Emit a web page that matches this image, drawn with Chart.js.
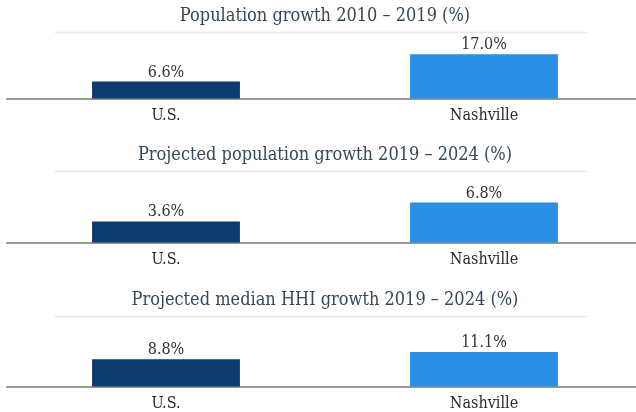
<!DOCTYPE html>
<html lang="en">
<head>
    <meta charset="UTF-8">
    <title>Growth comparison</title>
    <script src="https://cdn.jsdelivr.net/npm/chart.js"></script>
    <style>
        body {
            margin: 0;
            width: 636px;
            height: 412px;
            overflow: hidden; /* canvases are a bit wider than the page */
            position: relative;
            background: #fff;
        }
        .panel {
            position: absolute;
            left: -7px;
        }
    </style>
</head>
<body>
    <div class="panel" style="top:0px"><canvas id="chartPop" width="650" height="139"></canvas></div>
    <div class="panel" style="top:139px"><canvas id="chartProjPop" width="650" height="145"></canvas></div>
    <div class="panel" style="top:284px"><canvas id="chartHhi" width="650" height="137"></canvas></div>

    <script>
        const categories = ['U.S.', 'Nashville'];
        const titles = [
            'Population growth 2010 – 2019 (%)',
            'Projected population growth 2019 – 2024 (%)',
            'Projected median HHI growth 2019 – 2024 (%)'
        ];
        const popGrowth = [6.6, 17.0];
        const projPopGrowth = [3.6, 6.8];
        const projHhiGrowth = [8.8, 11.1];

        const barColors = ['#0c3b6f', '#2b8fe5'];
        const serif = "'DejaVu Serif Condensed', 'DejaVu Serif', serif";

        // value labels above each bar
        const valueLabels = {
            id: 'valueLabels',
            afterDatasetsDraw(chart) {
                const ctx = chart.ctx;
                const ds = chart.data.datasets[0];
                ctx.save();
                ctx.font = '16px ' + serif;
                ctx.fillStyle = '#333333';
                ctx.textAlign = 'center';
                ctx.textBaseline = 'alphabetic';
                chart.getDatasetMeta(0).data.forEach((bar, i) => {
                    ctx.fillText(ds.data[i].toFixed(1) + '%', bar.x, bar.y - 5);
                });
                ctx.restore();
            }
        };

        // thin rule under the title
        const titleRule = {
            id: 'titleRule',
            beforeDraw(chart) {
                const ctx = chart.ctx;
                const y = Math.round(chart.chartArea.top) + 0.5;
                ctx.save();
                ctx.strokeStyle = '#e8e8e8';
                ctx.lineWidth = 1.5;
                ctx.beginPath();
                ctx.moveTo(62, y);
                ctx.lineTo(594, y);
                ctx.stroke();
                ctx.restore();
            }
        };

        function makeChart(id, title, values, yMax, padBottom) {
            return new Chart(document.getElementById(id), {
                type: 'bar',
                data: {
                    labels: categories,
                    datasets: [{
                        data: values,
                        backgroundColor: barColors,
                        barPercentage: 0.465,
                        categoryPercentage: 1
                    }]
                },
                options: {
                    responsive: false,
                    animation: false,
                    layout: { padding: { left: 14, right: 0, top: 0, bottom: padBottom } },
                    plugins: {
                        legend: { display: false },
                        tooltip: { enabled: false },
                        title: {
                            display: true,
                            text: title,
                            color: '#34495a',
                            font: { family: serif, size: 18, weight: 'normal' },
                            padding: { top: 6, bottom: 4 }
                        }
                    },
                    scales: {
                        x: {
                            grid: { display: false, drawTicks: false },
                            border: { display: true, color: '#9a9a9a', width: 2 },
                            ticks: {
                                color: '#2b2b2b',
                                padding: 7,
                                font: { family: serif, size: 16 }
                            }
                        },
                        y: {
                            display: false,
                            min: 0,
                            max: yMax
                        }
                    }
                },
                plugins: [valueLabels, titleRule]
            });
        }

        makeChart('chartPop', titles[0], popGrowth, 25.7, 7);
        makeChart('chartProjPop', titles[1], projPopGrowth, 12.2, 8);
        makeChart('chartHhi', titles[2], projHhiGrowth, 22.7, 1);
    </script>
</body>
</html>
